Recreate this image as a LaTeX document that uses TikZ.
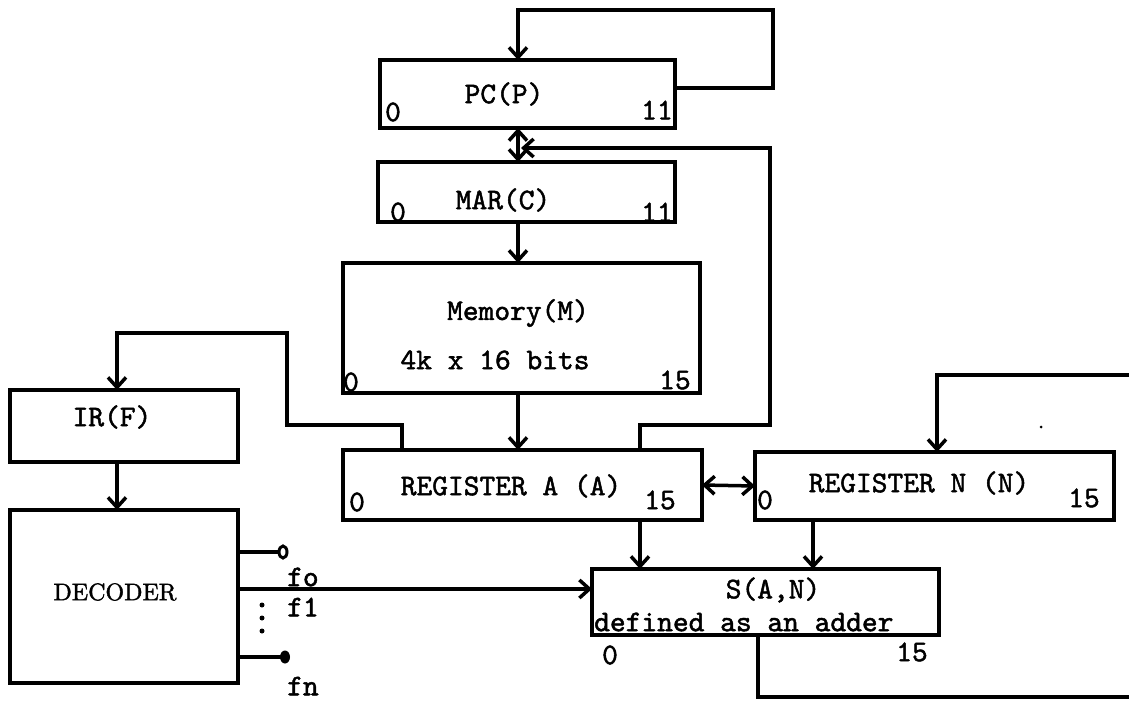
\documentclass[tikz,border=0pt]{standalone}
\usepackage{fontspec}
\setmonofont{lmmono10-regular.otf}[FakeBold=1.6]
\setmainfont{lmroman10-regular.otf}[FakeBold=1.6]
\usetikzlibrary{arrows.meta}
\begin{document}
\begin{tikzpicture}[x=1pt,y=-1pt,
  box/.style={draw, line width=3.5pt, inner sep=0pt, outer sep=0pt},
  ln/.style={line width=3.5pt},
  arr/.style={ln, -{Straight Barb[length=10pt,width=18pt]}},
  darr/.style={ln, {Straight Barb[length=10pt,width=18pt]}-{Straight Barb[length=10pt,width=18pt]}},
  tt/.style={font=\ttfamily\fontsize{30}{36}\selectfont, inner sep=0pt},
  rm/.style={font=\rmfamily\fontsize{24}{28}\selectfont, inner sep=0pt}]
\useasboundingbox (0,0) rectangle (1129,701);
% boxes
\node[box, minimum width=295pt, minimum height=68pt] (PC) at (527.5,94) {};
\node[box, minimum width=297pt, minimum height=60pt] (MAR) at (526.5,192) {};
\node[box, minimum width=357pt, minimum height=130pt] (MEM) at (521.5,328) {};
\node[box, minimum width=228pt, minimum height=72pt] (IR) at (124,426) {};
\node[box, minimum width=228pt, minimum height=173pt] (DEC) at (124,596.5) {};
\node[box, minimum width=359pt, minimum height=70pt] (REGA) at (522.5,485) {};
\node[box, minimum width=359pt, minimum height=68pt] (REGN) at (934.5,486) {};
\node[box, minimum width=347pt, minimum height=66pt] (S) at (765.5,602) {};
% texts
\node[tt] (tPC) at (504,94) {PC(P)};
\node[tt] (tPC0) at (393,112) {0};
\node[tt] (tPC11) at (657,110) {11};
\node[tt] (tMAR) at (503,200) {MAR(C)};
\node[tt] (tMAR0) at (398,212) {0};
\node[tt] (tMAR11) at (657,212) {11};
\node[tt] (tMEM) at (518,313) {Memory(M)};
\node[tt] (tMEMb) at (495,360) {4k x 16 bits};
\node[tt] (tMEM0) at (351,382) {0};
\node[tt] (tMEM15) at (675,380) {15};
\node[tt] (tIR) at (112,417) {IR(F)};
\node[rm] (tDEC) at (115,592) {DECODER};
\node[tt] (tA) at (511,486) {REGISTER A (A)};
\node[tt] (tA0) at (357,502) {0};
\node[tt] (tA15) at (660,500) {15};
\node[tt] (tN) at (919,483) {REGISTER N (N)};
\node[tt] (tN0) at (765,500) {0};
\node[tt] (tN15) at (1084,498) {15};
\node[tt] (tS) at (773,590) {S(A,N)};
\node[tt, anchor=west] (tSb) at (594,622) {defined as an adder};
\node[tt] (tS0) at (610,655) {0};
\node[tt] (tS15) at (912,652) {15};
\node[tt, anchor=west] (tf0) at (287,577) {fo};
\node[tt, anchor=west] (tf1) at (287,607) {f1};
\node[tt, anchor=west] (tfn) at (287,686) {fn};
% connectors
\draw[arr] ([yshift=6pt]PC.east) -| (773,10) -| ([xshift=-9.5pt]PC.north);
\draw[darr] ([xshift=-9.5pt]PC.south) -- ([xshift=-8.5pt]MAR.north);
\coordinate (jn) at (521,148);
\draw[arr] ([xshift=117.5pt]REGA.north) |- (770,425) |- (jn);
\draw[arr] ([xshift=-8.5pt]MAR.south) -- ([xshift=-3.5pt]MEM.north);
\draw[arr] ([xshift=-3.5pt]MEM.south) -- ([xshift=-4.5pt]REGA.north);
\draw[arr] ([xshift=-120.5pt]REGA.north) |- (287,425) |- (117,333) -- ([xshift=-7pt]IR.north);
\draw[arr] ([xshift=-7pt]IR.south) -- ([xshift=-7pt]DEC.north);
\draw[darr] (REGA.east) -- (REGN.west);
\draw[arr] ([xshift=117.5pt]REGA.south) -- ([xshift=-125.5pt]S.north);
\draw[arr] ([xshift=-121.5pt]REGN.south) -- ([xshift=47.5pt]S.north);
\coordinate (nR) at (1129,375);
\draw[arr] (nR) -| ([xshift=2.5pt]REGN.north);
\coordinate (sR) at (1129,697);
\draw[ln] ([xshift=-7.5pt]S.south) |- (sR);
% decoder outputs
\coordinate (sin) at ([yshift=13pt]S.west);
\draw[arr] (DEC.east |- sin) -- (sin);
\coordinate (oc) at (283,552);
\draw[ln] ([yshift=44.5pt]DEC.east) -- (oc);
\draw[line width=3pt, fill=white] (oc) ellipse (4 and 6);
\coordinate (fc) at (285,657);
\draw[ln] ([yshift=-60.5pt]DEC.east) -- (fc);
\fill (fc) ellipse (5 and 6.5);
\fill (262,605) circle (2.5);
\fill (262,618) circle (2.5);
\fill (262,631) circle (2.5);
\fill (1041,427) circle (1.5);
\end{tikzpicture}
\end{document}
